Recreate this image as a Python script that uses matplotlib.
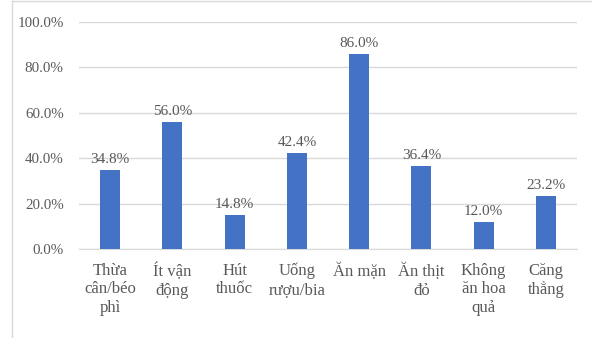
import numpy as np
import matplotlib.pyplot as plt
from matplotlib.lines import Line2D
from matplotlib.ticker import FuncFormatter

# Dữ liệu
categories = ["Thừa\ncân/béo\nphì", "Ít vận\nđộng", "Hút\nthuốc", "Uống\nrượu/bia",
              "Ăn mặn", "Ăn thịt\nđỏ", "Không\năn hoa\nquả", "Căng\nthẳng"]
values = [34.8, 56.0, 14.8, 42.4, 86.0, 36.4, 12.0, 23.2]
yticks = [0, 20, 40, 60, 80, 100]

bar_color = '#4472C4'
text_color = '#595959'
grid_color = '#D9D9D9'

plt.rcParams['font.family'] = ['Liberation Serif', 'DejaVu Serif']

fig = plt.figure(figsize=(5.92, 3.38), dpi=100)
W, H = 592, 338
ax = fig.add_axes([79 / W, 1 - 249 / H, (577 - 79) / W, (249 - 22) / H])

x = np.arange(len(categories))
ax.bar(x, values, width=0.32, color=bar_color, zorder=3)

for xi, v in zip(x, values):
    ax.text(xi, v + 1.8, f"{v:.1f}%", ha='center', va='bottom',
            fontsize=11, color=text_color)

ax.set_xlim(-0.5, len(categories) - 0.5)
ax.set_ylim(0, 100)
ax.set_yticks(yticks)
ax.yaxis.set_major_formatter(FuncFormatter(lambda v, p: f"{v:.1f}%"))
ax.set_xticks(x)
ax.set_xticklabels(categories, linespacing=1.2, fontsize=12)

ax.tick_params(axis='both', length=0, labelcolor=text_color)
ax.tick_params(axis='y', pad=11, labelsize=10.8)
ax.tick_params(axis='x', pad=10)
ax.grid(axis='y', color=grid_color, linewidth=1, zorder=0)
for s in ['top', 'right', 'left']:
    ax.spines[s].set_visible(False)
ax.spines['bottom'].set_color(grid_color)

# khung ngoài
fig.add_artist(Line2D([12 / W, 12 / W], [0, 1 - 1 / H], color='#D9D9D9', lw=1))
fig.add_artist(Line2D([12 / W, 1], [1 - 1 / H, 1 - 1 / H], color='#D9D9D9', lw=1))

fig.savefig('out.png', dpi=100)
